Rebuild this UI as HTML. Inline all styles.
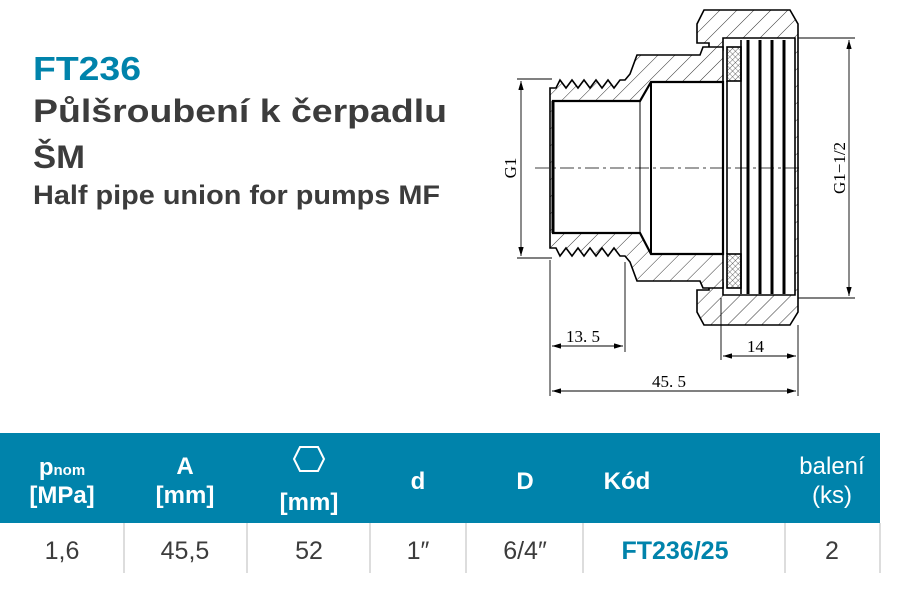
<!DOCTYPE html>
<html><head><meta charset="utf-8"><style>
html,body{margin:0;padding:0;background:#fff;width:898px;height:589px;overflow:hidden}
svg{display:block}
</style></head><body>
<svg width="898" height="589" viewBox="0 0 898 589" xmlns="http://www.w3.org/2000/svg" font-family="Liberation Sans, sans-serif">
<defs>
<pattern id="h" width="12" height="12" patternUnits="userSpaceOnUse" patternTransform="rotate(45)"><line x1="0" y1="0" x2="0" y2="12" stroke="#000" stroke-width="0.8"/></pattern>
<pattern id="x" width="4" height="4" patternUnits="userSpaceOnUse" patternTransform="rotate(45)"><path d="M0 0H4M0 0V4" stroke="#000" stroke-width="0.6"/></pattern>
<marker id="a" viewBox="0 0 10 6" refX="10" refY="3" markerWidth="10" markerHeight="6" orient="auto-start-reverse"><path d="M0 0L10 3L0 6z" fill="#000"/></marker>
</defs>
<text x="33" y="80" font-size="33" font-weight="bold" fill="#0083ab" textLength="108" lengthAdjust="spacingAndGlyphs">FT236</text>
<text x="33" y="122" font-size="32" font-weight="bold" fill="#3c3c3c" textLength="414" lengthAdjust="spacingAndGlyphs">Půlšroubení k čerpadlu</text>
<text x="33" y="168" font-size="32" font-weight="bold" fill="#3c3c3c" textLength="52" lengthAdjust="spacingAndGlyphs">ŠM</text>
<text x="33" y="204" font-size="27" font-weight="bold" fill="#3c3c3c" textLength="407" lengthAdjust="spacingAndGlyphs">Half pipe union for pumps MF</text>

<g stroke="#000" fill="none" stroke-width="1.6">
<path d="M704 10H790L798 24V312L790 325H704L697 312V290L709 290L709 283H723V295H795V38H723V50H709V43L697 43V24Z" fill="url(#h)"/>
<g stroke-width="3">
<line x1="748" y1="40" x2="748" y2="294"/><line x1="760" y1="40" x2="760" y2="294"/><line x1="772" y1="40" x2="772" y2="294"/><line x1="784" y1="40" x2="784" y2="294"/>
</g>
<rect x="727" y="47" width="14" height="34" fill="url(#x)"/>
<rect x="727" y="254" width="14" height="34" fill="url(#x)"/>
<line x1="727" y1="81" x2="727" y2="254"/>
<line x1="741" y1="40" x2="741" y2="294"/>
<path d="M550 88H556L560 80L566 88L572 80L578 88L584 80L590 88L596 80L602 88L608 80L614 88L620 80H625L630 74L637 55H700L703 47H723V288H703L700 281H637L630 262L625 256H620L614 248L608 256L602 248L596 256L590 248L584 256L578 248L572 256L566 248L560 256L556 248H550Z" fill="#fff"/>
<path d="M550 88H556L560 80L566 88L572 80L578 88L584 80L590 88L596 80L602 88L608 80L614 88L620 80H625L630 74L637 55H700L703 47H723V288H703L700 281H637L630 262L625 256H620L614 248L608 256L602 248L596 256L590 248L584 256L578 248L572 256L566 248L560 256L556 248H550Z" fill="url(#h)" stroke="none"/>
<path d="M553 101H640L651 82H723V254H651L640 233H553Z" fill="#fff" stroke-width="2.2"/>
<line x1="553" y1="101" x2="553" y2="233" stroke-width="3"/>
<line x1="640" y1="101" x2="640" y2="233" stroke-width="1"/>
<line x1="651" y1="82" x2="651" y2="254" stroke-width="2"/>
</g>
<line x1="535" y1="168" x2="800" y2="168" stroke="#000" stroke-width="0.8" stroke-dasharray="14 4 3 4"/>
<g stroke="#000" stroke-width="0.9" fill="none">
<line x1="517" y1="79" x2="552" y2="79"/><line x1="517" y1="258" x2="552" y2="258"/>
<line x1="521" y1="81" x2="521" y2="256" marker-start="url(#a)" marker-end="url(#a)"/>
<line x1="798" y1="38" x2="855" y2="38"/><line x1="798" y1="298" x2="855" y2="298"/>
<line x1="849" y1="40" x2="849" y2="296" marker-start="url(#a)" marker-end="url(#a)"/>
<line x1="550" y1="260" x2="550" y2="396"/><line x1="625" y1="262" x2="625" y2="352"/>
<line x1="721" y1="298" x2="721" y2="360"/><line x1="798" y1="325" x2="798" y2="396"/>
<line x1="552" y1="346" x2="623" y2="346" marker-start="url(#a)" marker-end="url(#a)"/>
<line x1="723" y1="356" x2="796" y2="356" marker-start="url(#a)" marker-end="url(#a)"/>
<line x1="552" y1="391" x2="796" y2="391" marker-start="url(#a)" marker-end="url(#a)"/>
</g>
<g font-family="Liberation Serif, serif" font-size="17" fill="#000">
<text x="566" y="342">13. 5</text>
<text x="747" y="352">14</text>
<text x="652" y="387">45. 5</text>
<text transform="translate(516 168) rotate(-90)" text-anchor="middle">G1</text>
<text transform="translate(845 168) rotate(-90)" text-anchor="middle">G1−1/2</text>
</g>

<rect x="0" y="433" width="880" height="90" fill="#0083ab"/>
<g fill="#fff" font-weight="bold" font-size="24" text-anchor="middle">
<text x="62" y="475">p<tspan font-size="15">nom</tspan></text>
<text x="62" y="503">[MPa]</text>
<text x="185" y="474">A</text>
<text x="185" y="503">[mm]</text>
<text x="309" y="510">[mm]</text>
<text x="418" y="489">d</text>
<text x="525" y="489">D</text>
<text x="627" y="489">Kód</text>
<text x="832" y="474" font-weight="normal">balení</text>
<text x="832" y="503" font-weight="normal">(ks)</text>
</g>
<path d="M300 447H318L324 459L318 471H300L294 459Z" fill="none" stroke="#fff" stroke-width="2"/>
<g stroke="#bbb" stroke-width="1">
<line x1="124" y1="523" x2="124" y2="573"/><line x1="247" y1="523" x2="247" y2="573"/><line x1="370" y1="523" x2="370" y2="573"/><line x1="466" y1="523" x2="466" y2="573"/><line x1="583" y1="523" x2="583" y2="573"/><line x1="785" y1="523" x2="785" y2="573"/><line x1="880" y1="523" x2="880" y2="573"/>
</g>
<g font-size="25" fill="#3c3c3c" text-anchor="middle">
<text x="62" y="559">1,6</text>
<text x="185" y="559">45,5</text>
<text x="309" y="559">52</text>
<text x="418" y="559">1″</text>
<text x="525" y="559">6/4″</text>
<text x="675" y="559" fill="#0083ab" font-weight="bold">FT236/25</text>
<text x="832" y="559">2</text>
</g>
</svg>
</body></html>
